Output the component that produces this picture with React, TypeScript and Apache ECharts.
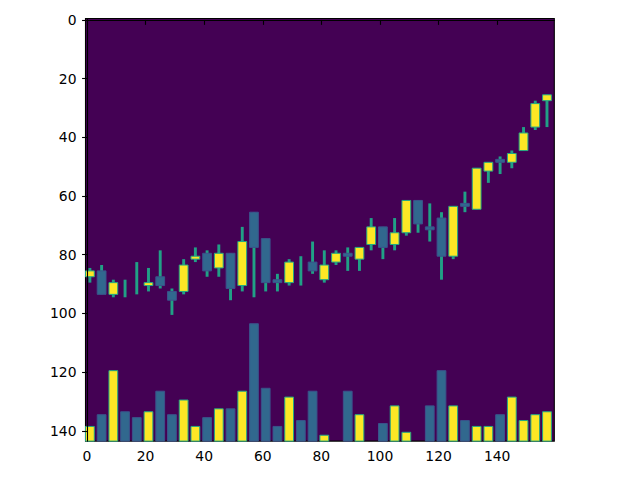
import { useEffect, useRef } from "react";
import * as echarts from "echarts";

// 图像坐标：列 0..159，行 0..143（行号向下增大）
// K线数据按行边界记录（整数 k = 第 k-1 行与第 k 行之间的边界）
const OPENS = [
  88, 86, 94, 92, 88, 91, 88, 93, 93, 82, 80, 85, 80, 91, 66, 75, 89, 90, 86, 83,
  89, 83, 80, 82, 77, 71, 77, 73, 62, 71, 68, 81, 63, 65, 52, 48, 49, 45, 37, 28,
];
const CLOSES = [
  86, 94, 90, 92, 88, 90, 91, 96, 84, 81, 86, 80, 92, 76, 78, 90, 90, 83, 86, 86,
  84, 80, 81, 78, 71, 78, 73, 62, 70, 72, 81, 64, 64, 51, 49, 49, 46, 39, 29, 26,
];
const HIGHS = [
  85, 84, 89, 89, 83, 85, 79, 92, 82, 78, 79, 77, 80, 71, 66, 75, 87, 82, 81, 76,
  79, 79, 78, 78, 68, 71, 68, 62, 62, 63, 66, 64, 59, 51, 49, 47, 45, 37, 28, 26,
];
const LOWS = [
  90, 94, 95, 95, 94, 93, 92, 101, 94, 83, 88, 88, 96, 93, 95, 93, 93, 91, 91, 87,
  90, 84, 86, 86, 79, 82, 79, 74, 73, 76, 89, 82, 66, 65, 56, 53, 51, 45, 38, 37,
];
// 成交量：从底边 (143.5) 向上的行数
const VOLUMES = [
  5, 9, 24, 10, 8, 10, 17, 9, 14, 5, 8, 11, 11, 17, 40, 18, 5, 15, 7, 17,
  2, 0, 17, 9, 0, 6, 12, 3, 0, 12, 24, 12, 7, 5, 5, 9, 15, 7, 9, 10,
];
const TICKS = [0, 20, 40, 60, 80, 100, 120, 140];

const BG = "#440154";
const UP = "#fde725";
const UP_EDGE = "#22a884";
const DOWN = "#31688e";
const DOWN_EDGE = "#3b528b";
const WICK = "#21a086";
const FONT = "DejaVu Sans";

export default function App() {
  const ref = useRef<HTMLDivElement>(null);

  useEffect(() => {
    if (!ref.current) return;
    const chart = echarts.init(ref.current, undefined, { renderer: "svg" });

    const candles = OPENS.map((o, i) => [i, o, CLOSES[i], HIGHS[i], LOWS[i]]);
    const volumes = VOLUMES.map((v, i) => [i, v, CLOSES[i] < OPENS[i] ? 1 : 0]);

    const axisCommon = {
      type: "value",
      axisLine: { show: true, lineStyle: { color: "#000", width: 1.1 } },
      axisTick: {
        show: true,
        inside: false,
        length: 4.9,
        lineStyle: { color: "#000", width: 1.1 },
        customValues: TICKS,
      },
      splitLine: { show: false },
      z: 5,
    };

    chart.setOption({
      animation: false,
      grid: {
        left: 85.5,
        top: 18.5,
        width: 468.8,
        height: 422.6,
        show: true,
        backgroundColor: BG,
        borderColor: "#000",
        borderWidth: 1.1,
      },
      xAxis: {
        ...axisCommon,
        min: -0.5,
        max: 159.5,
        axisLabel: {
          customValues: TICKS,
          color: "#000",
          fontFamily: FONT,
          fontSize: 13.9,
          margin: 8,
        },
      },
      yAxis: {
        ...axisCommon,
        inverse: true,
        min: -0.5,
        max: 143.5,
        axisLabel: {
          customValues: TICKS,
          color: "#000",
          fontFamily: FONT,
          fontSize: 13.9,
          margin: 9,
        },
      },
      series: [
        {
          type: "custom",
          data: candles,
          renderItem: (_: unknown, api: any) => {
            const i = api.value(0);
            const open = api.value(1);
            const close = api.value(2);
            const high = api.value(3);
            const low = api.value(4);
            const up = close < open;
            const xl = api.coord([4 * i - 0.5, 0])[0];
            const xr = api.coord([4 * i + 2.5, 0])[0];
            const wl = api.coord([4 * i + 0.5, 0])[0];
            const wr = api.coord([4 * i + 1.5, 0])[0];
            const yh = api.coord([0, high - 0.5])[1];
            const yl = api.coord([0, low - 0.5])[1];
            const children: any[] = [
              {
                type: "rect",
                shape: { x: wl, y: yh, width: wr - wl, height: yl - yh },
                style: { fill: WICK },
              },
            ];
            if (open !== close) {
              const yt = api.coord([0, Math.min(open, close) - 0.5])[1];
              const yb = api.coord([0, Math.max(open, close) - 0.5])[1];
              children.push({
                type: "rect",
                shape: { x: xl, y: yt, width: xr - xl, height: yb - yt },
                style: {
                  fill: up ? UP : DOWN,
                  stroke: up ? UP_EDGE : DOWN_EDGE,
                  lineWidth: 1,
                },
              });
            }
            return { type: "group", children };
          },
        },
        {
          type: "custom",
          data: volumes,
          renderItem: (_: unknown, api: any) => {
            const i = api.value(0);
            const v = api.value(1);
            if (!v) return null;
            const up = api.value(2) === 1;
            const xl = api.coord([4 * i - 0.5, 0])[0];
            const xr = api.coord([4 * i + 2.5, 0])[0];
            const yt = api.coord([0, 143.5 - v])[1];
            const yb = api.coord([0, 143.5])[1];
            return {
              type: "rect",
              shape: { x: xl, y: yt, width: xr - xl, height: yb - yt },
              style: {
                fill: up ? UP : DOWN,
                stroke: up ? UP_EDGE : DOWN_EDGE,
                lineWidth: 1,
              },
            };
          },
        },
      ],
    });

    return () => chart.dispose();
  }, []);

  return (
    <div
      ref={ref}
      style={{ position: "fixed", left: 0, top: 0, width: 640, height: 480, background: "#fff" }}
    />
  );
}
